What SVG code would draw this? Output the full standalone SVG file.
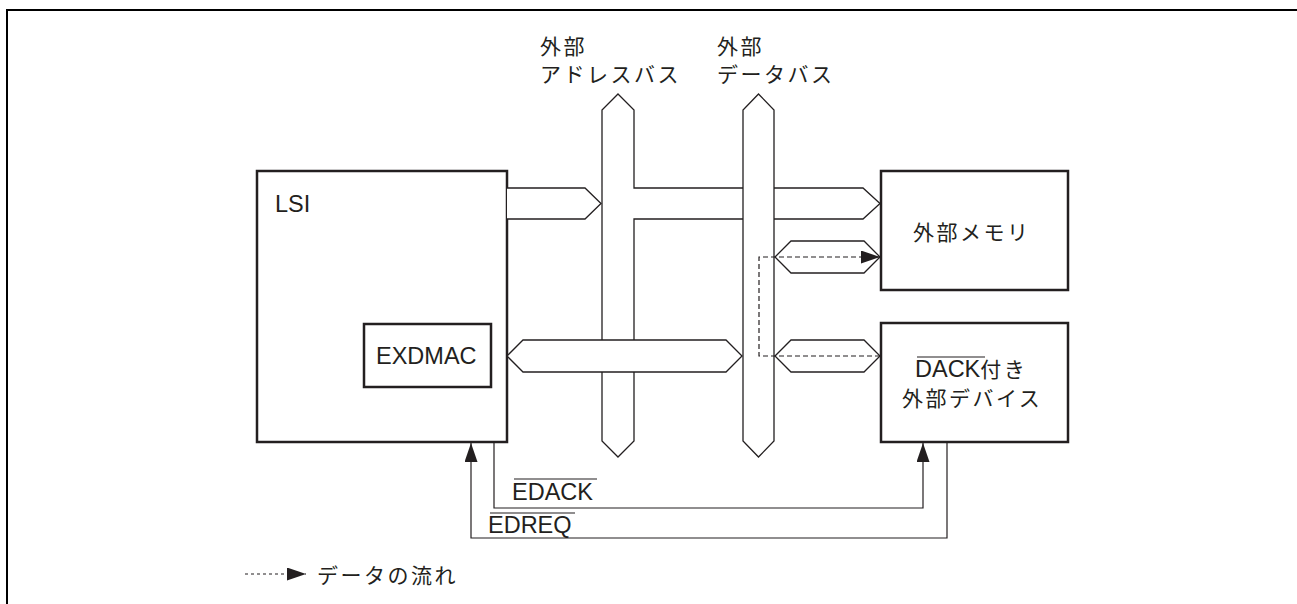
<svg xmlns="http://www.w3.org/2000/svg" width="1297" height="604" viewBox="0 0 1297 604">
<defs>
<style>
.frame{fill:none;stroke:#000;stroke-width:2}
.box{fill:#fff;stroke:#231f20;stroke-width:2.5}
.bus{fill:#fff;stroke:#231f20;stroke-width:1.3;stroke-linejoin:miter}
.sig{fill:none;stroke:#231f20;stroke-width:1.2}
.dash{fill:none;stroke:#231f20;stroke-width:1.2;stroke-dasharray:5,3}
.lat{font-family:"Liberation Sans",Arial,sans-serif;font-size:23.5px;fill:#231f20}
.jp{font-family:"Noto Sans CJK JP","Noto Sans CJK SC",sans-serif;font-size:21px;fill:#231f20;letter-spacing:2.5px}
.ov{stroke:#231f20;stroke-width:1.2}
</style>
<marker id="ah" viewBox="0 0 19 13" refX="19" refY="6.5" markerWidth="19" markerHeight="13" markerUnits="userSpaceOnUse" orient="auto">
<path d="M0,0 L19,6.5 L0,13 Z" fill="#231f20"/>
</marker>
</defs>
<rect width="1297" height="604" fill="#fff"/>
<path class="frame" d="M7,604 L7,10 L1297,10"/>

<g id="lsi">
<rect class="box" x="257" y="171" width="250" height="271"/>
<text class="lat" x="275" y="212">LSI</text>
</g>
<g id="exdmac">
<rect class="box" x="364" y="324" width="127" height="63"/>
<text class="lat" x="376" y="364">EXDMAC</text>
</g>
<g id="memory">
<rect class="box" x="881" y="171" width="187" height="119"/>
<text class="jp" x="913" y="240">外部メモリ</text>
</g>
<g id="device">
<rect class="box" x="881" y="323" width="187" height="119"/>
<text class="lat" x="915" y="377">DACK<tspan class="jp" style="font-size:21px">付き</tspan></text>
<line class="ov" x1="917" y1="357" x2="985" y2="357"/>
<text class="jp" x="902" y="406">外部デバイス</text>
</g>

<g id="bus-labels">
<text class="jp" x="540" y="54">外部</text>
<text class="jp" x="540" y="82">アドレスバス</text>
<text class="jp" x="717" y="54">外部</text>
<text class="jp" x="717" y="82">データバス</text>
</g>

<g id="connectors">
<path class="bus" d="M507,188 L585,188 L601,203.5 L585,219 L507,219"/>
<path class="bus" d="M618,94 L634,110 L634,188 L863,188 L880,203.5 L863,219 L634,219 L634,441 L618,457 L602,441 L602,110 Z"/>
<path class="bus" d="M758.5,94 L774,110 L774,441 L758.5,457 L743,441 L743,110 Z"/>
<path class="bus" d="M507,356 L523,340 L726,340 L742,356 L726,372 L523,372 Z"/>
<path class="bus" d="M775,257 L791,241 L864,241 L880,257 L864,273 L791,273 Z"/>
<path class="bus" d="M775,356 L791,340 L864,340 L880,356 L864,372 L791,372 Z"/>
<path class="dash" d="M880,356 L759,356 L759,257 L880,257" marker-end="url(#ah)"/>
<path class="sig" d="M494,442 L494,508 L923,508 L923,443" marker-end="url(#ah)"/>
<path class="sig" d="M947,442 L947,538 L471,538 L471,443" marker-end="url(#ah)"/>
</g>

<g id="signal-labels">
<text class="lat" x="512" y="500">EDACK</text>
<line class="ov" x1="514" y1="479" x2="597" y2="479"/>
<text class="lat" x="488" y="533">EDREQ</text>
<line class="ov" x1="490" y1="513" x2="575" y2="513"/>
</g>

<g id="legend">
<path class="dash" d="M245,574 L306,574" style="stroke-dasharray:3,3" marker-end="url(#ah)"/>
<text class="jp" x="317" y="583">データの流れ</text>
</g>
</svg>
